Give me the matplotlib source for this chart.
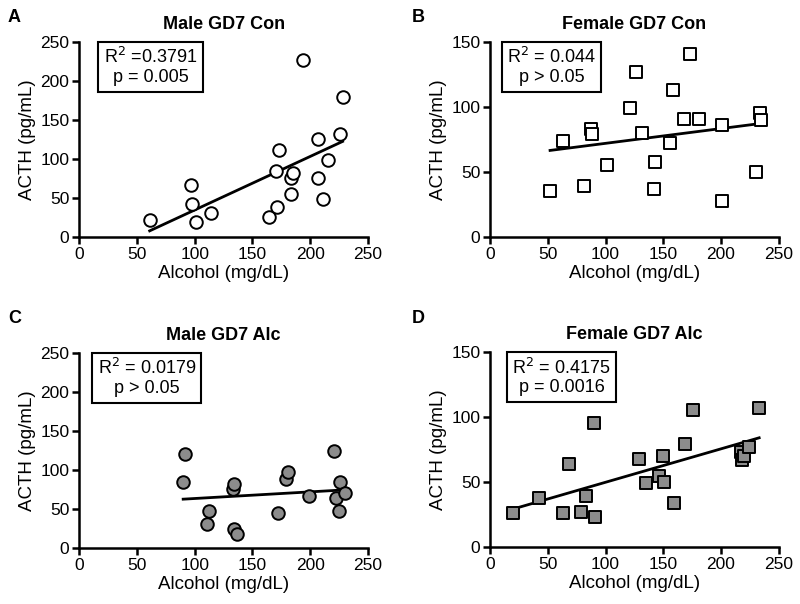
"""Four-panel ACTH vs blood alcohol scatter plots with linear fits."""

import matplotlib

matplotlib.use("Agg")

import matplotlib.pyplot as plt
import numpy as np

plt.rcParams["font.family"] = ["Liberation Sans", "DejaVu Sans"]

# Panel A: Male GD7 Con
male_con_x = [61, 97, 98, 101, 114, 164, 171, 170, 173, 183, 185, 183, 194, 207, 207, 215, 211, 226, 228]
male_con_y = [22, 67, 42, 19, 31, 26, 38, 84, 111, 76, 82, 55, 227, 126, 76, 99, 49, 132, 180]

# Panel B: Female GD7 Con
female_con_x = [52, 63, 81, 87, 88, 101, 121, 126, 132, 142, 143, 156, 158, 168, 173, 181, 201, 201, 230, 234, 235]
female_con_y = [35, 74, 39, 83, 79, 55, 99, 127, 80, 37, 58, 72, 113, 91, 141, 91, 86, 28, 50, 95, 90]

# Panel C: Male GD7 Alc
male_alc_x = [92, 90, 112, 111, 133, 134, 134, 137, 172, 179, 181, 199, 221, 222, 226, 225, 230]
male_alc_y = [121, 85, 48, 31, 75, 82, 24, 18, 45, 89, 97, 67, 124, 64, 85, 47, 70]

# Panel D: Female GD7 Alc
female_alc_x = [20, 42, 63, 68, 79, 83, 90, 91, 129, 135, 146, 150, 151, 159, 169, 176, 217, 218, 220, 224, 233]
female_alc_y = [26, 38, 26, 64, 27, 39, 95, 23, 68, 49, 55, 70, 50, 34, 79, 105, 73, 67, 70, 77, 107]

titles = ["Male GD7 Con", "Female GD7 Con", "Male GD7 Alc", "Female GD7 Alc"]
letters = ["A", "B", "C", "D"]
stats_text = [
    "R$^2$ =0.3791\np = 0.005",
    "R$^2$ = 0.044\np > 0.05",
    "R$^2$ = 0.0179\np > 0.05",
    "R$^2$ = 0.4175\np = 0.0016",
]
y_maxes = [250, 150, 250, 150]

fig = plt.figure(figsize=(8, 6.04), dpi=100)

panels = [
    (male_con_x, male_con_y, "o", "white", [0.099, 0.6076, 0.361, 0.323], 0.247, (0.010, 0.963)),
    (female_con_x, female_con_y, "s", "white", [0.6125, 0.6076, 0.361, 0.323], 0.213, (0.515, 0.963)),
    (male_alc_x, male_alc_y, "o", "#8c8c8c", [0.099, 0.0927, 0.361, 0.323], 0.234, (0.010, 0.466)),
    (female_alc_x, female_alc_y, "s", "#8c8c8c", [0.6125, 0.0943, 0.361, 0.323], 0.248, (0.515, 0.466)),
]

for i, (xs, ys, marker, face, rect, box_x, letter_pos) in enumerate(panels):
    ax = fig.add_axes(rect)
    xs = np.array(xs, dtype=float)
    ys = np.array(ys, dtype=float)
    ax.scatter(xs, ys, marker=marker, s=82 if marker == "o" else 74,
               facecolor=face, edgecolor="black", linewidth=1.4, zorder=3, clip_on=False)
    slope, intercept = np.polyfit(xs, ys, 1)
    fit_x = np.array([xs.min(), xs.max()])
    ax.plot(fit_x, slope * fit_x + intercept, color="black", linewidth=2, zorder=2)

    ax.set_xlim(0, 250)
    ax.set_ylim(0, y_maxes[i])
    ax.set_xticks(np.arange(0, 251, 50))
    ax.set_yticks(np.arange(0, y_maxes[i] + 1, 50))
    for side in ("top", "right"):
        ax.spines[side].set_visible(False)
    for side in ("left", "bottom"):
        ax.spines[side].set_linewidth(1.8)
    ax.tick_params(direction="out", length=5, width=1.8, labelsize=12.5, pad=2)
    ax.set_xlabel("Alcohol (mg/dL)", fontsize=13.5, labelpad=2)
    ax.set_ylabel("ACTH (pg/mL)", fontsize=13.5, labelpad=3)
    ax.set_title(titles[i], fontsize=13, fontweight="bold", pad=9)

    ax.text(box_x, 0.972, stats_text[i], transform=ax.transAxes, ha="center", va="top",
            fontsize=13, linespacing=1.15,
            bbox=dict(boxstyle="square,pad=0.3", facecolor="white", edgecolor="black", linewidth=1.5))

    fig.text(letter_pos[0], letter_pos[1], letters[i], fontsize=13, fontweight="bold")

fig.savefig("out.png", dpi=100)
